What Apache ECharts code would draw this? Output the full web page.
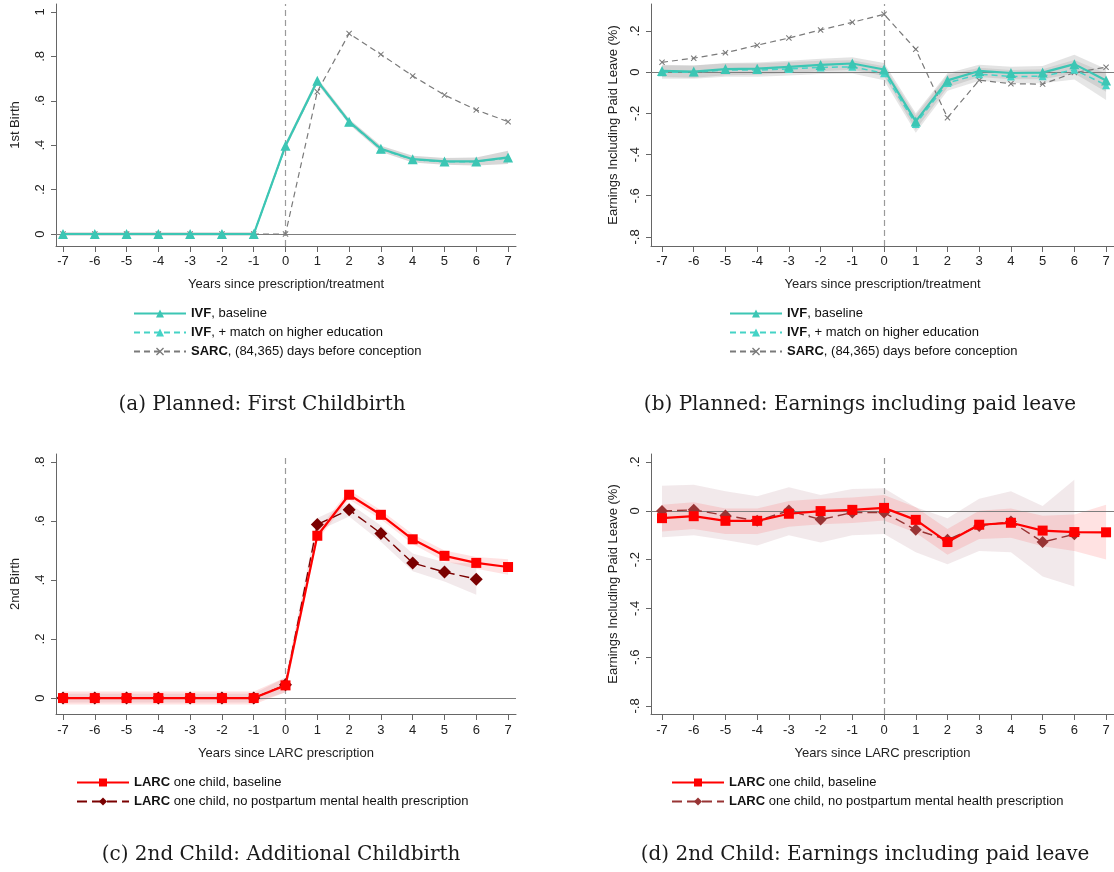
<!DOCTYPE html>
<html>
<head>
<meta charset="utf-8">
<script src="https://cdn.jsdelivr.net/npm/echarts@6/dist/echarts.min.js"></script>
<style>
  html, body { margin: 0; padding: 0; background: #fff; }
  #chart { width: 1114px; height: 872px; }
</style>
</head>
<body>
<div id="chart"></div>
<script>
// Event-time axis shared by all four panels
const years = [-7, -6, -5, -4, -3, -2, -1, 0, 1, 2, 3, 4, 5, 6, 7];

// (a) First childbirth
const aIvfBase  = [0, 0, 0, 0, 0, 0, 0, 0.398, 0.690, 0.506, 0.384, 0.337, 0.327, 0.327, 0.345];
const aIvfMatch = [0, 0, 0, 0, 0, 0, 0, 0.396, 0.688, 0.503, 0.382, 0.335, 0.325, 0.326, 0.343];
const aSarc     = [0, 0, 0, 0, 0, 0, 0, 0.000, 0.641, 0.903, 0.809, 0.712, 0.626, 0.559, 0.506];
const aBandLo   = [-0.008, -0.008, -0.008, -0.008, -0.008, -0.008, -0.008, 0.385, 0.677, 0.494, 0.371, 0.322, 0.312, 0.309, 0.315];
const aBandHi   = [0.008, 0.008, 0.008, 0.008, 0.008, 0.008, 0.008, 0.411, 0.703, 0.518, 0.397, 0.352, 0.342, 0.345, 0.375];

// (b) Earnings including paid leave, IVF vs SARC
const bIvfBase  = [0.006, 0.003, 0.015, 0.017, 0.026, 0.035, 0.042, 0.013, -0.239, -0.040, 0.006, -0.004, -0.002, 0.039, -0.040];
const bIvfMatch = [0.000, 0.000, 0.010, 0.010, 0.016, 0.023, 0.026, -0.005, -0.252, -0.052, -0.010, -0.021, -0.020, 0.012, -0.063];
const bSarc     = [0.048, 0.068, 0.094, 0.131, 0.166, 0.205, 0.242, 0.281, 0.111, -0.221, -0.039, -0.056, -0.058, -0.002, 0.024];
const bBaseLo   = [-0.024, -0.027, -0.015, -0.013, -0.004, 0.005, 0.012, -0.019, -0.279, -0.075, -0.024, -0.034, -0.034, -0.006, -0.095];
const bBaseHi   = [0.036, 0.033, 0.045, 0.047, 0.056, 0.065, 0.072, 0.045, -0.199, -0.005, 0.036, 0.026, 0.030, 0.084, 0.015];
const bMatchLo  = [-0.032, -0.032, -0.022, -0.022, -0.016, -0.009, -0.006, -0.039, -0.294, -0.090, -0.042, -0.053, -0.054, -0.035, -0.135];
const bMatchHi  = [0.032, 0.032, 0.042, 0.042, 0.048, 0.055, 0.058, 0.029, -0.210, -0.014, 0.022, 0.011, 0.014, 0.059, -0.006];

// (c) Additional childbirth after LARC
const cBase   = [0, 0, 0, 0, 0, 0, 0, 0.043, 0.550, 0.689, 0.621, 0.538, 0.482, 0.458, 0.444];
const cNopp   = [0, 0, 0, 0, 0, 0, 0, 0.045, 0.588, 0.638, 0.558, 0.458, 0.427, 0.403];
const cBaseLo = [-0.022, -0.022, -0.022, -0.022, -0.022, -0.022, -0.022, 0.020, 0.535, 0.673, 0.606, 0.522, 0.464, 0.438, 0.418];
const cBaseHi = [0.022, 0.022, 0.022, 0.022, 0.022, 0.022, 0.022, 0.070, 0.565, 0.705, 0.636, 0.555, 0.500, 0.478, 0.470];
const cNoppLo = [-0.015, -0.015, -0.015, -0.015, -0.015, -0.015, -0.015, 0.020, 0.565, 0.615, 0.530, 0.430, 0.395, 0.350];
const cNoppHi = [0.015, 0.015, 0.015, 0.015, 0.015, 0.015, 0.015, 0.070, 0.610, 0.660, 0.585, 0.490, 0.460, 0.455];

// (d) Earnings including paid leave after LARC
const dBase   = [-0.030, -0.022, -0.041, -0.041, -0.012, -0.001, 0.004, 0.012, -0.037, -0.128, -0.057, -0.049, -0.081, -0.087, -0.088];
const dNopp   = [-0.001, 0.004, -0.019, -0.041, 0.001, -0.036, -0.007, -0.007, -0.078, -0.119, -0.062, -0.044, -0.128, -0.096];
const dBaseLo = [-0.085, -0.075, -0.095, -0.095, -0.065, -0.055, -0.050, -0.040, -0.090, -0.180, -0.115, -0.110, -0.145, -0.165, -0.200];
const dBaseHi = [0.025, 0.035, 0.010, 0.010, 0.040, 0.050, 0.055, 0.065, 0.015, -0.075, 0.000, 0.010, -0.020, -0.015, 0.025];
const dNoppLo = [-0.108, -0.100, -0.120, -0.142, -0.100, -0.130, -0.100, -0.095, -0.170, -0.219, -0.165, -0.170, -0.269, -0.310];
const dNoppHi = [0.103, 0.107, 0.080, 0.060, 0.097, 0.065, 0.090, 0.093, 0.015, -0.030, 0.050, 0.080, 0.020, 0.127];

// Tick values
const yTicksA = [0, 0.2, 0.4, 0.6, 0.8, 1];
const yTicksB = [-0.8, -0.6, -0.4, -0.2, 0, 0.2];
const yTicksC = [0, 0.2, 0.4, 0.6, 0.8];
const yTicksD = [-0.8, -0.6, -0.4, -0.2, 0, 0.2];

// Text
const yTitles = ['1st Birth', 'Earnings Including Paid Leave (%)', '2nd Birth', 'Earnings Including Paid Leave (%)'];
const xTitles = ['Years since prescription/treatment', 'Years since prescription/treatment', 'Years since LARC prescription', 'Years since LARC prescription'];
const captions = [
  '(a) Planned: First Childbirth',
  '(b) Planned: Earnings including paid leave',
  '(c) 2nd Child: Additional Childbirth',
  '(d) 2nd Child: Earnings including paid leave'
];
const legendTop = [['IVF', ', baseline'], ['IVF', ', + match on higher education'], ['SARC', ', (84,365) days before conception']];
const legendBottom = [['LARC', ' one child, baseline'], ['LARC', ' one child, no postpartum mental health prescription']];

const SANS = 'Liberation Sans, Arial, Helvetica, sans-serif';
const TEAL = '#3cc6b4';
const TEAL2 = '#45d3c6';
const GREY = '#7a7a7a';
const RED = '#ff0000';
const MAROON = '#7a0000';
const MAROON_D = '#983434';
const CROSS = 'path://M0,1.2L1.2,0L5,3.8L8.8,0L10,1.2L6.2,5L10,8.8L8.8,10L5,6.2L1.2,10L0,8.8L3.8,5Z';

const pairs = (ys) => ys.map((y, i) => [years[i], y]);

// Panel layout in pixels
const grids = [
  { left: 56,  top: 4,   width: 460, height: 242 },
  { left: 651, top: 4,   width: 463, height: 242 },
  { left: 56,  top: 454, width: 460, height: 260 },
  { left: 651, top: 454, width: 463, height: 260 }
];
const xRanges = [[-7.22, 7.25], [-7.347, 7.25], [-7.22, 7.25], [-7.347, 7.25]];
const yRanges = [[-0.054, 1.036], [-0.844, 0.331], [-0.054, 0.827], [-0.833, 0.233]];
const yTicks = [yTicksA, yTicksB, yTicksC, yTicksD];
const yNameGap = [34, 31, 34, 31];
const xNameGap = [32, 32, 33, 33];

function stataNum(v) {
  const r = Math.round(v * 10) / 10;
  if (r === 0) return '0';
  return String(r).replace(/^(-?)0\./, '$1.');
}

const axisLineStyle = { color: '#666', width: 1 };

const xAxes = grids.map((g, i) => ({
  type: 'value', gridIndex: i,
  min: xRanges[i][0], max: xRanges[i][1],
  name: xTitles[i], nameLocation: 'middle', nameGap: xNameGap[i],
  nameTextStyle: { fontFamily: SANS, fontSize: 13, color: '#222' },
  axisLine: { show: true, onZero: false, lineStyle: axisLineStyle },
  axisTick: { show: true, length: 6, lineStyle: axisLineStyle, customValues: years },
  axisLabel: { customValues: years, margin: i < 2 ? 9 : 10, fontFamily: SANS, fontSize: 13, color: '#222',
               formatter: (v) => String(Math.round(v)) },
  splitLine: { show: false }
}));

const yAxes = grids.map((g, i) => ({
  type: 'value', gridIndex: i,
  min: yRanges[i][0], max: yRanges[i][1],
  name: yTitles[i], nameLocation: 'middle', nameGap: yNameGap[i], nameRotate: 90,
  nameTextStyle: { fontFamily: SANS, fontSize: 13, color: '#222' },
  axisLine: { show: true, onZero: false, lineStyle: axisLineStyle },
  axisTick: { show: true, length: 5, lineStyle: axisLineStyle, customValues: yTicks[i] },
  axisLabel: { customValues: yTicks[i], rotate: 90, margin: 9, fontFamily: SANS, fontSize: 13, color: '#222',
               formatter: stataNum },
  splitLine: { show: false }
}));

// Confidence band drawn as one polygon through the axis scales
function band(idx, lo, hi, fill) {
  const data = lo.map((l, i) => [years[i], l, hi[i]]);
  return {
    type: 'custom', xAxisIndex: idx, yAxisIndex: idx, z: 1, silent: true, clip: true,
    data: data,
    encode: { x: 0, y: [1, 2] },
    renderItem: (params, api) => {
      if (params.dataIndex !== 0) return null;
      const lower = data.map(d => api.coord([d[0], d[1]]));
      const upper = data.map(d => api.coord([d[0], d[2]])).reverse();
      return { type: 'polygon', shape: { points: lower.concat(upper) }, style: { fill: fill } };
    }
  };
}

// Reference lines: dashed at event time 0, solid at zero effect
function refLines(idx) {
  return {
    type: 'line', xAxisIndex: idx, yAxisIndex: idx, data: [], z: 2, silent: true,
    markLine: {
      silent: true, symbol: 'none', label: { show: false }, animation: false,
      data: [
        { xAxis: 0, lineStyle: { color: '#9a9a9a', type: [6, 4], width: 1.2 } },
        { yAxis: 0, lineStyle: { color: '#7d7d7d', type: 'solid', width: 1.2 } }
      ]
    }
  };
}

function line(idx, name, ys, opt) {
  return {
    type: 'line', name: name, xAxisIndex: idx, yAxisIndex: idx, z: opt.z || 5,
    data: pairs(ys),
    symbol: opt.symbol, symbolSize: opt.size, showSymbol: true,
    itemStyle: { color: opt.color },
    lineStyle: { color: opt.color, width: opt.width, type: opt.dash || 'solid' },
    emphasis: { disabled: true }, animation: false
  };
}

const series = [
  // (a)
  refLines(0),
  band(0, aBandLo, aBandHi, 'rgba(140,140,140,0.35)'),
  line(0, 'a0', aIvfBase,  { symbol: 'triangle', size: 10, color: TEAL,  width: 2.2, z: 7 }),
  line(0, 'a1', aIvfMatch, { symbol: 'triangle', size: 8,  color: TEAL2, width: 1.5, dash: [6, 4], z: 6 }),
  line(0, 'a2', aSarc,     { symbol: CROSS, size: 6, color: GREY, width: 1.2, dash: [6, 4], z: 5 }),
  // (b)
  refLines(1),
  band(1, bMatchLo, bMatchHi, 'rgba(150,150,150,0.24)'),
  band(1, bBaseLo, bBaseHi, 'rgba(150,150,150,0.27)'),
  line(1, 'b0', bIvfBase,  { symbol: 'triangle', size: 10, color: TEAL,  width: 2.2, z: 7 }),
  line(1, 'b1', bIvfMatch, { symbol: 'triangle', size: 8,  color: TEAL2, width: 1.5, dash: [6, 4], z: 6 }),
  line(1, 'b2', bSarc,     { symbol: CROSS, size: 6, color: GREY, width: 1.2, dash: [6, 4], z: 5 }),
  // (c)
  refLines(2),
  band(2, cNoppLo, cNoppHi, 'rgba(150,70,90,0.12)'),
  band(2, cBaseLo, cBaseHi, 'rgba(255,60,60,0.15)'),
  line(2, 'c1', cNopp, { symbol: 'diamond', size: 13, color: MAROON, width: 1.4, dash: [10, 5], z: 6 }),
  line(2, 'c0', cBase, { symbol: 'rect', size: 10, color: RED, width: 2.2, z: 7 }),
  // (d)
  refLines(3),
  band(3, dNoppLo, dNoppHi, 'rgba(150,70,90,0.12)'),
  band(3, dBaseLo, dBaseHi, 'rgba(255,60,60,0.15)'),
  line(3, 'd1', dNopp, { symbol: 'diamond', size: 12, color: MAROON_D, width: 1.4, dash: [10, 5], z: 6 }),
  line(3, 'd0', dBase, { symbol: 'rect', size: 10, color: RED, width: 2.2, z: 7 })
];

const legendText = {
  a0: legendTop[0], a1: legendTop[1], a2: legendTop[2],
  b0: legendTop[0], b1: legendTop[1], b2: legendTop[2],
  c0: legendBottom[0], c1: legendBottom[1],
  d0: legendBottom[0], d1: legendBottom[1]
};

function legend(names, left, top) {
  return {
    data: names, left: left, top: top, orient: 'vertical',
    itemWidth: 52, itemHeight: 10, itemGap: 6, selectedMode: false, padding: 0,
    formatter: (n) => '{b|' + legendText[n][0] + '}{n|' + legendText[n][1] + '}',
    textStyle: {
      fontFamily: SANS, fontSize: 13, color: '#111',
      rich: {
        b: { fontFamily: SANS, fontSize: 13, fontWeight: 'bold', color: '#111' },
        n: { fontFamily: SANS, fontSize: 13, color: '#111' }
      }
    }
  };
}

const captionGraphics = [[262, 405], [860, 405], [281, 855], [865, 855]].map((p, i) => ({
  type: 'text', x: p[0], y: p[1], silent: true,
  style: { text: captions[i], fill: '#1a1a1a', font: '20px "DejaVu Serif", serif', textAlign: 'center', textVerticalAlign: 'middle' }
}));

const chart = echarts.init(document.getElementById('chart'), null, { renderer: 'canvas' });
chart.setOption({
  backgroundColor: '#fff',
  animation: false,
  grid: grids,
  xAxis: xAxes,
  yAxis: yAxes,
  legend: [
    legend(['a0', 'a1', 'a2'], 133, 307),
    legend(['b0', 'b1', 'b2'], 729, 307),
    legend(['c0', 'c1'], 76, 776),
    legend(['d0', 'd1'], 671, 776)
  ],
  graphic: captionGraphics,
  series: series
});
</script>
</body>
</html>
